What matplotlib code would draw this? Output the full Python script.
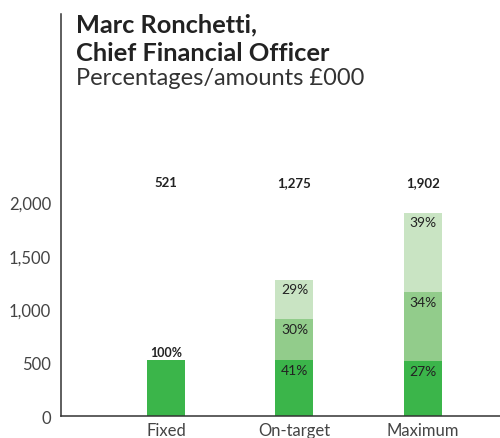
import matplotlib.pyplot as plt
import numpy as np

categories = ["Fixed", "On-target", "Maximum"]
totals = [521, 1275, 1902]
# element values (£000), bottom to top: fixed pay, annual bonus, LTIP
fixed_pay = [521, 523, 514]
bonus = [0, 383, 647]
ltip = [0, 369, 741]
fixed_pct = ["100%", "41%", "27%"]
bonus_pct = ["", "30%", "34%"]
ltip_pct = ["", "29%", "39%"]
yticks = [0, 500, 1000, 1500, 2000]

DARK = "#3bb54a"
MID = "#92cc8b"
LIGHT = "#c9e4c3"
TEXT = "#222222"

plt.rcParams["font.family"] = ["Lato", "DejaVu Sans"]

fig = plt.figure(figsize=(5.0, 4.39), dpi=100)
ax = fig.add_axes([0.122, 0.05, 0.878, 0.916])

x = np.arange(len(categories))
w = 0.296
b1 = np.array(fixed_pay)
b2 = b1 + np.array(bonus)
ax.bar(x, fixed_pay, w, color=DARK)
ax.bar(x, bonus, w, bottom=b1, color=MID)
ax.bar(x, ltip, w, bottom=b2, color=LIGHT)

# percentage labels near the top of each segment
for i in range(len(categories)):
    if i == 0:
        ax.text(x[i], fixed_pay[i] + 20, fixed_pct[i], ha="center", va="bottom",
                fontsize=9, color=TEXT, fontweight="bold")
        continue
    ax.text(x[i], fixed_pay[i] - 90, fixed_pct[i], ha="center", va="center",
            fontsize=10, color=TEXT)
    ax.text(x[i], b2[i] - 90, bonus_pct[i], ha="center", va="center",
            fontsize=10, color=TEXT)
    ax.text(x[i], totals[i] - 90, ltip_pct[i], ha="center", va="center",
            fontsize=10, color=TEXT)

# totals above the bars
for i, t in enumerate(totals):
    ax.text(x[i], 2190, f"{t:,}", ha="center", va="center",
            fontsize=9.5, color=TEXT, fontweight="bold")

ax.set_xlim(-0.817, 2.6)
ax.set_ylim(0, 3760)
ax.set_yticks(yticks)
ax.set_yticklabels([f"{v:,}" for v in yticks])
ax.set_xticks(x)
ax.set_xticklabels(categories)
ax.tick_params(length=0, labelsize=12, colors="#444444")
ax.tick_params(axis="y", pad=7)
ax.tick_params(axis="x", pad=4)
for s in ["top", "right"]:
    ax.spines[s].set_visible(False)
for s in ["left", "bottom"]:
    ax.spines[s].set_color("#333333")
    ax.spines[s].set_linewidth(1.1)

fig.text(0.152, 1 - 32 / 439, "Marc Ronchetti,", ha="left", va="baseline",
         fontsize=18.3, fontweight="bold", color=TEXT)
fig.text(0.152, 1 - 61 / 439, "Chief Financial Officer", ha="left", va="baseline",
         fontsize=18.3, fontweight="bold", color=TEXT)
fig.text(0.152, 1 - 85 / 439, "Percentages/amounts £000", ha="left", va="baseline",
         fontsize=17, color="#333333")

fig.savefig("out.png", dpi=100)
